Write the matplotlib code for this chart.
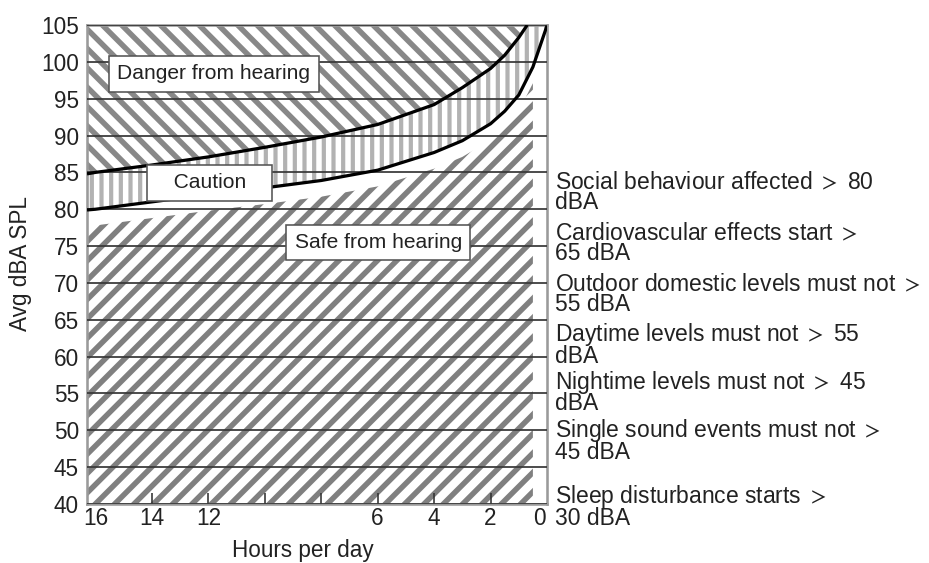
import numpy as np
import matplotlib
matplotlib.use("Agg")
from matplotlib import pyplot as plt
from matplotlib import transforms

plt.rcParams['font.family'] = ['Liberation Sans', 'DejaVu Sans']
plt.rcParams['mathtext.fontset'] = 'stixsans'

# upper boundary: danger above, caution below
upper_hours = [16.3, 16, 14, 12, 10, 8, 6, 4, 3, 2, 1.5, 1, 0.7]
upper_db = [84.8, 85.0, 86.0, 87.1, 88.4, 89.8, 91.5, 94.2, 96.5, 99.1, 100.9, 103.3, 105.0]

# lower boundary: caution above, safe below
lower_hours = [16.3, 16, 14, 12, 10, 8, 6, 4, 3, 2, 1.5, 1, 0.5, 0.25, 0]
lower_db = [79.9, 80.0, 81.0, 82.0, 82.9, 83.9, 85.3, 87.7, 89.3, 91.6, 93.3, 95.5, 99.3, 102.1, 104.9]

xtick_values = [16, 14, 12, 10, 8, 6, 4, 2, 0]
xtick_labels = ['16', '14', '12', '', '', '6', '4', '2', '0']
ytick_values = list(range(40, 106, 5))

zone_labels = ['Danger from hearing', 'Caution', 'Safe from hearing']
zone_hours = [11.8, 11.95, 5.98]
zone_db = [98.4, 83.6, 75.5]

effect_labels = [
  'Social behaviour affected $>$ 80\ndBA',
  'Cardiovascular effects start $>$\n65 dBA',
  'Outdoor domestic levels must not $>$\n55 dBA',
  'Daytime levels must not $>$ 55\ndBA',
  'Nightime levels must not $>$ 45\ndBA',
  'Single sound events must not $>$\n45 dBA',
  'Sleep disturbance starts $>$\n30 dBA',
]
effect_db = [82.2, 75.3, 68.4, 61.6, 55.2, 48.6, 39.6]

DPI = 116
FS = 14.0
TXT = '#222222'

fig = plt.figure(figsize=(929 / DPI, 563 / DPI), dpi=DPI)
ax = fig.add_axes([87 / 929, 1 - 504 / 563, 460 / 929, 479 / 563])

lower_hours = np.array(lower_hours)
lower_db = np.array(lower_db)


def hatched(x, y1, y2, hatch, color, lw, z):
  with plt.rc_context({'hatch.linewidth': lw}):
    coll = ax.fill_between(x, y1, y2, facecolor='white', edgecolor=color,
                           hatch=hatch, linewidth=0, zorder=z)
  if hasattr(coll, 'set_hatch_linewidth'):
    coll.set_hatch_linewidth(lw)
  return coll


# caution band (everything above the lower curve, danger is painted over it)
hatched(lower_hours, lower_db, 105, '||', '#b2b2b2', 2.6, 1)
# danger zone above the upper curve
hatched(upper_hours, upper_db, 105, '\\\\', '#888888', 3.4, 1.1)
# safe zone, leaves a white strip under the lower curve
safe = lower_hours >= 0.5
hatched(lower_hours[safe], 40, lower_db[safe] - 2.2, '//', '#808080', 3.4, 1.1)

ax.plot(upper_hours, upper_db, color='black', linewidth=2.0, zorder=4, solid_capstyle='butt')
ax.plot(lower_hours, lower_db, color='black', linewidth=2.0, zorder=4, solid_capstyle='butt')

ax.set_xlim(16.3, 0)
ax.set_ylim(40, 105)
ax.set_yticks(ytick_values)
ax.set_xticks(xtick_values, xtick_labels)
ax.set_axisbelow(False)
ax.grid(axis='y', color='#3a3a3a', linewidth=1.1)

ax.tick_params(axis='y', length=0, pad=5, labelsize=FS, labelcolor=TXT)
ax.tick_params(axis='x', direction='in', length=7, width=1, color='#333333', pad=2,
               labelsize=FS, labelcolor=TXT)
ticks = ax.xaxis.get_major_ticks()
ticks[0].tick1line.set_visible(False)
ticks[-1].tick1line.set_visible(False)
ticks[-1].label1.set_transform(ticks[-1].label1.get_transform()
                               + transforms.ScaledTranslation(-8 / DPI, 0, fig.dpi_scale_trans))

for s in ax.spines.values():
  s.set_color('#9a9a9a')
  s.set_linewidth(1.6)

for label, h, db in zip(zone_labels, zone_hours, zone_db):
  text = '   ' + label + '   ' if label == 'Caution' else label
  ax.text(h, db, text, ha='center', va='center', fontsize=13.0, color=TXT, zorder=5,
          bbox=dict(boxstyle='square,pad=0.4', facecolor='white', edgecolor='#555555',
                    linewidth=1.0))

trans = transforms.blended_transform_factory(ax.transAxes, ax.transData)
for label, db in zip(effect_labels, effect_db):
  ax.text(1 + 8 / 460, db, label, transform=trans, ha='left', va='center',
          fontsize=14.2, color=TXT, linespacing=0.83, clip_on=False)

fig.text(303 / 929, 1 - 550 / 563, 'Hours per day', ha='center', va='center',
         fontsize=FS, color=TXT)
fig.text(21 / 929, 1 - 264 / 563, 'Avg dBA SPL', ha='center', va='center',
         rotation=90, fontsize=FS, color=TXT)

fig.savefig('out.png', dpi=DPI)
